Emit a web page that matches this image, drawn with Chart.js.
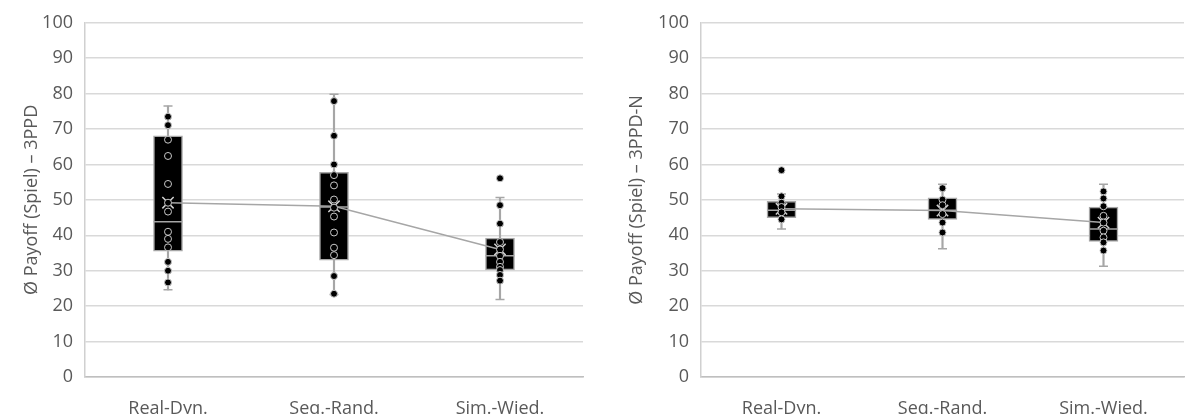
<!DOCTYPE html>
<html>
<head>
<meta charset="utf-8">
<script src="https://cdn.jsdelivr.net/npm/chart.js@4.4.1/dist/chart.umd.min.js"></script>
<style>
  html, body { margin: 0; padding: 0; background: #fff; overflow: hidden; }
  #wrap { position: relative; width: 1191px; height: 414px; overflow: hidden; }
  #left { position: absolute; left: 0; top: 0; }
  #right { position: absolute; left: 600px; top: 0; }
</style>
</head>
<body>
<div id="wrap">
  <canvas id="left" width="600" height="414"></canvas>
  <canvas id="right" width="600" height="414"></canvas>
</div>
<script>
// Kategorien
const categories = ['Real-Dyn.', 'Seq.-Rand.', 'Sim.-Wied.'];

// 3PPD (links)
const ppdQ1 = [35.5, 33.0, 30.2];
const ppdMedian = [43.8, 48.0, 34.2];
const ppdQ3 = [68.1, 57.8, 39.2];
const ppdWhiskerLow = [24.6, 23.3, 21.9];
const ppdWhiskerHigh = [76.5, 79.8, 50.7];
const ppdMean = [49.2, 48.2, 36.0];
const ppdPoints = [
  [73.5, 71.1, 67.0, 62.4, 54.5, 49.2, 46.7, 41.0, 39.0, 36.6, 32.5, 30.0, 26.7],
  [77.9, 68.1, 60.0, 57.0, 54.1, 50.1, 47.8, 45.3, 40.8, 36.5, 34.4, 28.5, 23.5],
  [56.1, 48.5, 43.3, 38.1, 36.0, 34.2, 32.5, 31.1, 30.2, 28.8, 27.2]
];

// 3PPD-N (rechts)
const ppdnQ1 = [45.0, 44.5, 38.3];
const ppdnMedian = [47.1, 47.1, 41.8];
const ppdnQ3 = [49.6, 50.6, 48.0];
const ppdnWhiskerLow = [41.8, 36.2, 31.3];
const ppdnWhiskerHigh = [51.7, 54.4, 54.4];
const ppdnMean = [47.5, 47.0, 43.6];
const ppdnPoints = [
  [58.4, 51.0, 49.2, 48.0, 46.5, 44.5],
  [53.3, 50.1, 48.5, 46.0, 43.6, 40.8],
  [52.4, 50.4, 48.2, 45.5, 43.6, 41.3, 39.4, 38.0, 35.7]
];

const yTickStep = 10;

const grey = '#a6a6a6';
const textColor = '#595959';
const fontFamily = "'Open Sans', 'Noto Sans', sans-serif";
const fontSize = 18;

function makeChart(id, yTitle, q1, med, q3, wLo, wHi, mean, points, axisWidth, padRight, titlePad) {
  var scatter = [];
  points.forEach(function(list, i) {
    list.forEach(function(v) { scatter.push({ x: categories[i], y: v }); });
  });

  var ctx = document.getElementById(id).getContext('2d');
  return new Chart(ctx, {
    type: 'bar',
    data: {
      labels: categories,
      datasets: [{
        // Whisker
        data: wLo.map(function(v, i) { return [v, wHi[i]]; }),
        backgroundColor: grey,
        borderWidth: 0,
        barThickness: 1.5,
        grouped: false,
        order: 7
      }, {
        // Box
        data: q1.map(function(v, i) { return [v, q3[i]]; }),
        backgroundColor: '#000000',
        borderColor: grey,
        borderWidth: 1.5,
        borderSkipped: false,
        barThickness: 29,
        grouped: false,
        order: 6
      }, {
        // Median
        type: 'line',
        data: med,
        showLine: false,
        pointStyle: 'line',
        pointRadius: 14.5,
        pointBorderColor: grey,
        pointBorderWidth: 1.5,
        order: 5
      }, {
        type: 'line',
        data: wLo,
        showLine: false,
        pointStyle: 'line',
        pointRadius: 4.5,
        pointBorderColor: grey,
        pointBorderWidth: 1.5,
        order: 5
      }, {
        type: 'line',
        data: wHi,
        showLine: false,
        pointStyle: 'line',
        pointRadius: 4.5,
        pointBorderColor: grey,
        pointBorderWidth: 1.5,
        order: 5
      }, {
        // Mittelwert-Linie
        type: 'line',
        data: mean,
        borderColor: grey,
        borderWidth: 1.5,
        tension: 0,
        pointStyle: 'crossRot',
        pointRadius: 8,
        pointBorderColor: '#d0d0d0',
        pointBorderWidth: 1.5,
        order: 3
      }, {
        // Datenpunkte
        type: 'line',
        data: scatter,
        showLine: false,
        pointStyle: 'circle',
        pointRadius: 3.5,
        pointBackgroundColor: '#000000',
        pointBorderColor: '#c8c8c8',
        pointBorderWidth: 1,
        order: 2
      }]
    },
    options: {
      responsive: false,
      animation: false,
      events: [],
      layout: { padding: { top: 18, right: padRight, left: 0, bottom: 0 } },
      plugins: {
        legend: { display: false },
        tooltip: { enabled: false }
      },
      scales: {
        x: {
          grid: { display: false },
          border: { display: true, color: '#bfbfbf', width: 1.5 },
          ticks: { color: textColor, font: { family: fontFamily, size: fontSize }, padding: 13, maxRotation: 0 },
          afterFit: function(scale) { scale.height = 37; }
        },
        y: {
          min: 0,
          max: 100,
          ticks: { stepSize: yTickStep, color: textColor, font: { family: fontFamily, size: fontSize }, padding: 12 },
          grid: { color: '#d9d9d9', lineWidth: 1.5, drawTicks: false },
          border: { display: true, color: '#d0d0d0', width: 1.5 },
          title: {
            display: true,
            text: yTitle,
            color: textColor,
            font: { family: fontFamily, size: fontSize },
            padding: { top: titlePad, bottom: 0 }
          },
          afterFit: function(scale) { scale.width = axisWidth; }
        }
      }
    }
  });
}

makeChart('left', 'Ø Payoff (Spiel) – 3PPD', ppdQ1, ppdMedian, ppdQ3, ppdWhiskerLow, ppdWhiskerHigh, ppdMean, ppdPoints, 85, 17, 21);
makeChart('right', 'Ø Payoff (Spiel) – 3PPD-N', ppdnQ1, ppdnMedian, ppdnQ3, ppdnWhiskerLow, ppdnWhiskerHigh, ppdnMean, ppdnPoints, 101, 3, 26);
</script>
</body>
</html>
